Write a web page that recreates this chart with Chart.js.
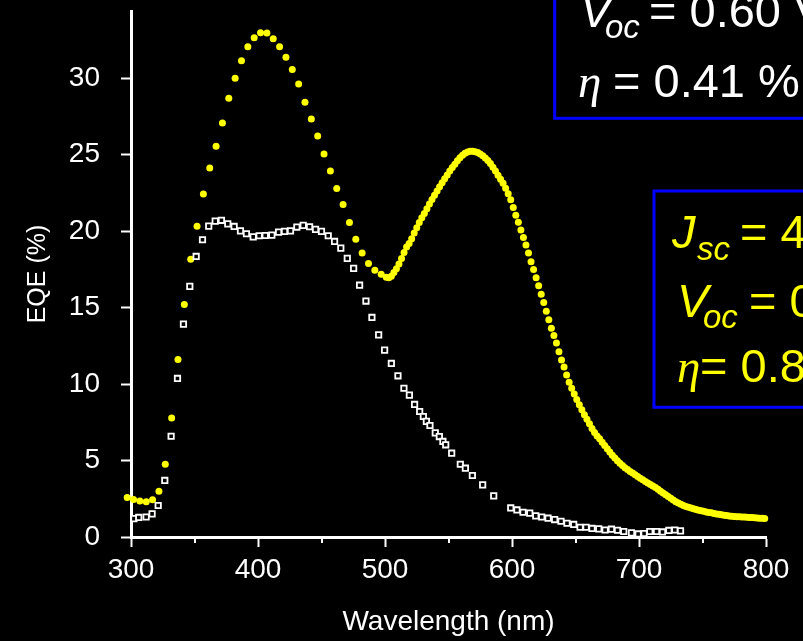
<!DOCTYPE html>
<html><head><meta charset="utf-8">
<script src="https://cdn.jsdelivr.net/npm/chart.js@4.4.1/dist/chart.umd.min.js"></script>
<style>html,body{margin:0;padding:0;background:#000;overflow:hidden}canvas{display:block}</style>
</head><body>
<canvas id="c" width="803" height="641"></canvas>
<script>
// ---- data ----
const xTickValues = [300, 400, 500, 600, 700, 800];
const xMinorTickValues = [350, 450, 550, 650, 750];
const yTickValues = [0, 5, 10, 15, 20, 25, 30];
const xAxisTitle = 'Wavelength (nm)';
const yAxisTitle = 'EQE (%)';

// yellow circles (5 nm steps, then 2 nm steps)
const yellowWavelength = [
  297,302,307,312,317,322,327,332,337,342,347,352,357,362,367,372,377,382,387,392,
  397,402,407,412,417,422,427,432,437,442,447,452,457,462,467,472,477,482,487,492,497,
  501,503,505,507,509,511,513,515,517,519,
  521,523,525,527,529,531,533,535,537,539,
  541,543,545,547,549,551,553,555,557,559,
  561,563,565,567,569,571,573,575,577,579,
  581,583,585,587,589,591,593,595,597,599,
  601,603,605,607,609,611,613,615,617,619,
  621,623,625,627,629,631,633,635,637,639,
  641,643,645,647,649,651,653,655,657,659,
  661,663,665,667,669,671,673,675,677,679,
  681,683,685,687,689,691,693,695,697,699,
  701,703,705,707,709,711,713,715,717,719,
  721,723,725,727,729,731,733,735,737,739,
  741,743,745,747,749,751,753,755,757,759,
  761,763,765,767,769,771,773,775,777,779,
  781,783,785,787,789,791,793,795,797,799
];
const yellowEqe = [
  2.58,2.45,2.36,2.30,2.43,3.00,4.76,7.79,11.61,15.21,18.17,20.33,22.43,24.13,25.55,27.07,28.69,30.00,31.15,32.06,
  32.65,32.98,32.96,32.59,32.06,31.37,30.58,29.62,28.44,27.33,26.22,25.04,23.93,22.79,21.75,20.57,19.48,18.57,17.89,17.45,17.19,
  16.98,16.95,17.05,17.30,17.55,17.85,18.22,18.60,18.97,19.20,
  19.50,19.88,20.22,20.57,20.88,21.16,21.46,21.77,22.07,22.35,
  22.63,22.90,23.17,23.43,23.68,23.93,24.17,24.38,24.60,24.80,
  24.97,25.10,25.18,25.22,25.23,25.20,25.14,25.05,24.93,24.79,
  24.62,24.42,24.18,23.93,23.66,23.40,23.13,22.80,22.45,22.05,
  21.55,21.05,20.58,20.08,19.59,19.10,18.57,18.00,17.50,16.95,
  16.43,15.88,15.33,14.76,14.20,13.66,13.17,12.68,12.12,11.58,
  11.12,10.60,10.12,9.72,9.35,9.00,8.65,8.33,8.00,7.70,
  7.40,7.10,6.83,6.60,6.42,6.20,5.98,5.77,5.56,5.35,
  5.16,4.99,4.83,4.67,4.53,4.41,4.29,4.18,4.07,3.95,
  3.84,3.74,3.63,3.53,3.43,3.33,3.23,3.12,3.00,2.88,
  2.77,2.65,2.53,2.42,2.31,2.23,2.15,2.06,1.99,1.94,
  1.90,1.85,1.80,1.75,1.71,1.68,1.64,1.61,1.58,1.54,
  1.51,1.48,1.45,1.42,1.40,1.37,1.36,1.34,1.33,1.32,
  1.31,1.30,1.29,1.28,1.27,1.26,1.25,1.23,1.22,1.21
];

// white open squares
const whiteWavelength = [
  302.3,306.1,311.9,316.6,321.4,326.6,331.6,336.6,341.3,346.3,351.3,356.3,361.2,366.3,371.2,376.2,381.2,386.2,390.9,396.2,
  400.9,405.7,410.9,416.2,420.9,425.6,430.6,435.6,440.6,445.3,450.0,455.3,460.3,465.2,470.3,475.3,480.0,485.0,489.7,495.0,
  499.7,505.0,510.2,514.9,519.2,523.3,527.3,530.2,532.6,535.4,539.6,542.8,545.6,547.8,552.5,559.3,563.3,568.8,576.9,585.6,
  599.0,603.9,608.7,614.0,618.7,623.4,628.4,633.6,638.6,643.3,648.6,653.6,658.3,663.0,668.3,673.3,678.3,683.1,688.0,694.1,
  699.3,704.0,708.5,713.8,718.5,723.5,728.2,732.7
];
const whiteEqe = [
  1.20,1.28,1.31,1.51,2.06,3.70,6.59,10.37,13.92,16.39,18.35,19.44,20.33,20.66,20.71,20.48,20.31,20.02,19.83,19.63,
  19.70,19.72,19.74,19.94,19.99,20.02,20.27,20.38,20.29,20.12,19.99,19.70,19.33,18.89,18.22,17.57,16.47,15.43,14.36,13.22,
  12.22,11.35,10.54,9.73,9.28,8.67,8.21,7.88,7.56,7.29,6.81,6.57,6.25,6.03,5.48,4.76,4.50,4.02,3.41,2.69,
  1.90,1.77,1.62,1.56,1.38,1.31,1.23,1.14,1.03,0.90,0.82,0.64,0.64,0.56,0.53,0.46,0.51,0.44,0.36,0.27,
  0.20,0.23,0.36,0.36,0.33,0.43,0.46,0.40
];

// annotation texts (partly cut off by the picture edge)
const box1Voc = '= 0.60 V';
const box1Eta = '= 0.41 %';
const box2Jsc = '= 4';
const box2Voc = '= 0';
const box2Eta = '= 0.8';

// ---- chart ----
const FONT = '"Liberation Sans", Arial, sans-serif';
const toPoints = (xs, ys) => xs.map((x, i) => ({ x: x, y: ys[i] }));

const M = '47px ' + FONT, IT = 'italic 47px ' + FONT, SUB = 'italic 33px ' + FONT,
      ETA = 'italic 47px "Liberation Serif", "Times New Roman", serif';

function drawParts(ctx, parts, color) {
  ctx.fillStyle = color;
  ctx.textBaseline = 'alphabetic';
  ctx.textAlign = 'left';
  parts.forEach(p => { ctx.font = p.f; ctx.fillText(p.t, p.x, p.y); });
}

const decorPlugin = {
  id: 'decor',
  afterDraw(chart) {
    const ctx = chart.ctx;
    const xs = chart.scales.x;
    const base = chart.chartArea.bottom;
    ctx.save();
    ctx.strokeStyle = '#ffffff';
    ctx.lineWidth = 2;
    xMinorTickValues.forEach(v => {
      const px = Math.round(xs.getPixelForValue(v));
      ctx.beginPath(); ctx.moveTo(px, base); ctx.lineTo(px, base + 6); ctx.stroke();
    });
    // boxes
    ctx.strokeStyle = '#0000ff';
    ctx.lineWidth = 3;
    ctx.strokeRect(554.7, -30, 320, 148.3);
    ctx.strokeRect(654, 191, 220, 216.3);
    // box 1 (white)
    drawParts(ctx, [
      { t: 'V', f: IT, x: 580, y: 27 }, { t: 'oc', f: SUB, x: 605, y: 38 }, { t: box1Voc, f: M, x: 649, y: 27 },
      { t: 'η', f: ETA, x: 578, y: 97 }, { t: box1Eta, f: M, x: 613, y: 97 }
    ], '#ffffff');
    // box 2 (yellow)
    drawParts(ctx, [
      { t: 'J', f: IT, x: 672, y: 248 }, { t: 'sc', f: SUB, x: 697, y: 260 }, { t: box2Jsc, f: M, x: 740, y: 248 },
      { t: 'V', f: IT, x: 677, y: 317 }, { t: 'oc', f: SUB, x: 703, y: 328 }, { t: box2Voc, f: M, x: 749, y: 317 },
      { t: 'η', f: ETA, x: 677, y: 382 }, { t: box2Eta, f: M, x: 700, y: 382 }
    ], '#ffff00');
    ctx.restore();
  }
};

const bgPlugin = {
  id: 'bg',
  beforeDraw(chart) {
    const ctx = chart.ctx;
    ctx.save(); ctx.fillStyle = '#000'; ctx.fillRect(0, 0, chart.width, chart.height); ctx.restore();
  }
};

new Chart(document.getElementById('c'), {
  type: 'scatter',
  data: {
    datasets: [
      {
        label: 'white',
        data: toPoints(whiteWavelength, whiteEqe),
        pointStyle: 'rect',
        pointRadius: 3.8,
        pointBorderWidth: 1.8,
        pointBorderColor: '#ffffff',
        pointBackgroundColor: '#000000',
        showLine: false,
        clip: false
      },
      {
        label: 'yellow',
        data: toPoints(yellowWavelength, yellowEqe),
        pointStyle: 'circle',
        pointRadius: 3.5,
        pointBorderWidth: 0,
        pointBackgroundColor: '#ffff00',
        pointBorderColor: '#ffff00',
        showLine: false,
        clip: false
      }
    ]
  },
  options: {
    responsive: false,
    animation: false,
    devicePixelRatio: 1,
    layout: { padding: { left: 0, right: 37, top: 11, bottom: 0 } },
    plugins: { legend: { display: false }, tooltip: { enabled: false } },
    events: [],
    scales: {
      x: {
        type: 'linear', min: 300, max: 800,
        afterBuildTicks: s => { s.ticks = xTickValues.map(v => ({ value: v })); },
        afterFit: s => { s.height = 104; s.paddingLeft = 0; s.paddingRight = 0; },
        grid: { drawOnChartArea: false, drawTicks: true, tickLength: 10, tickWidth: 2, tickColor: '#ffffff' },
        border: { display: true, color: '#ffffff', width: 3 },
        ticks: { color: '#ffffff', font: { family: FONT, size: 28 }, padding: 6, maxRotation: 0 },
        title: { display: true, text: xAxisTitle, color: '#ffffff', font: { family: FONT, size: 28 }, padding: { top: 0, bottom: 2 } }
      },
      y: {
        type: 'linear', min: 0, max: 34.4,
        afterBuildTicks: s => { s.ticks = yTickValues.map(v => ({ value: v })); },
        afterFit: s => { s.width = 131; s.paddingTop = 0; s.paddingBottom = 0; },
        grid: { drawOnChartArea: false, drawTicks: true, tickLength: 10, tickWidth: 2, tickColor: '#ffffff' },
        border: { display: true, color: '#ffffff', width: 3 },
        ticks: { color: '#ffffff', font: { family: FONT, size: 28 }, padding: 21 },
        title: { display: true, text: yAxisTitle, color: '#ffffff', font: { family: FONT, size: 25 }, padding: { top: 23, bottom: 0 } }
      }
    }
  },
  plugins: [bgPlugin, decorPlugin]
});
</script>
</body></html>
